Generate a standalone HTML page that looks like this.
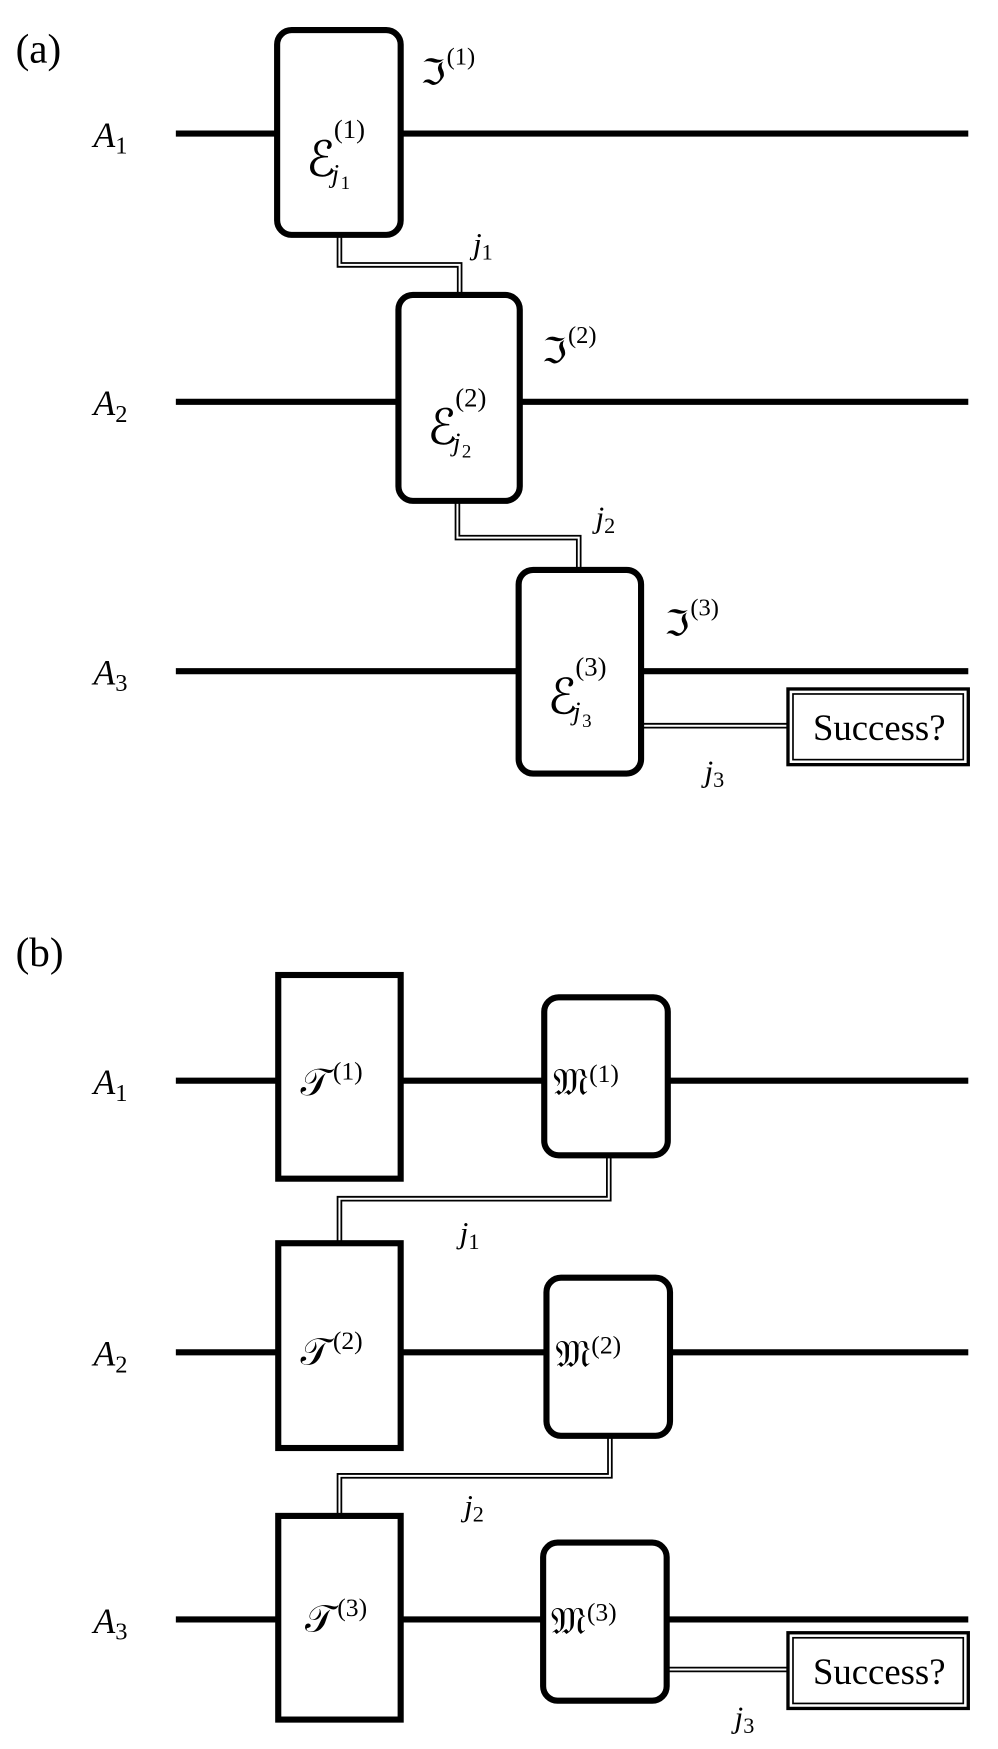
<!DOCTYPE html>
<html><head><meta charset="utf-8"><style>
html,body{margin:0;padding:0;background:#fff;}
svg{display:block;}
text{font-family:"Liberation Serif","DejaVu Serif",serif;fill:#000;}
.it{font-style:italic;}
.m{font-family:"DejaVu Serif","Liberation Serif",serif;}
</style></head><body>
<svg width="998" height="1749" viewBox="0 0 896.7 1571.4" xmlns="http://www.w3.org/2000/svg">
<g fill="none" stroke="#000" stroke-width="5.5">
<line x1="158" y1="120" x2="870" y2="120"/>
<line x1="158" y1="361" x2="870" y2="361"/>
<line x1="158" y1="603" x2="870" y2="603"/>
<line x1="158" y1="971" x2="870" y2="971"/>
<line x1="158" y1="1215" x2="870" y2="1215"/>
<line x1="158" y1="1455" x2="870" y2="1455"/>
</g>
<g fill="none" stroke="#000" stroke-width="5">
<polyline points="305,211 305,238 413,238 413,265"/>
<polyline points="411,450 411,483 520,483 520,512"/>
<polyline points="576,652 708,652"/>
<polyline points="547,1038 547,1077 305,1077 305,1117"/>
<polyline points="548,1290 548,1326 305,1326 305,1362"/>
<polyline points="599,1500 708,1500"/>
</g>
<g fill="none" stroke="#fff" stroke-width="1.8">
<polyline points="305,211 305,238 413,238 413,265"/>
<polyline points="411,450 411,483 520,483 520,512"/>
<polyline points="576,652 708,652"/>
<polyline points="547,1038 547,1077 305,1077 305,1117"/>
<polyline points="548,1290 548,1326 305,1326 305,1362"/>
<polyline points="599,1500 708,1500"/>
</g>
<g fill="#fff" stroke="#000" stroke-width="5.5">
<rect x="249" y="27" width="111" height="184" rx="13"/>
<rect x="358" y="265" width="109" height="185" rx="13"/>
<rect x="466" y="512" width="110" height="183" rx="13"/>
<rect x="250" y="876" width="110" height="183"/>
<rect x="489" y="896" width="111" height="142" rx="13"/>
<rect x="250" y="1117" width="110" height="184"/>
<rect x="491" y="1148" width="111" height="142" rx="13"/>
<rect x="250" y="1362" width="110" height="183"/>
<rect x="488" y="1386" width="111" height="142" rx="13"/>
</g>
<g fill="#fff" stroke="#000">
<rect x="708" y="619" width="162" height="68" stroke-width="3"/>
<rect x="712.5" y="623.5" width="153" height="59" stroke-width="1.5"/>
<rect x="708" y="1467" width="162" height="68" stroke-width="3"/>
<rect x="712.5" y="1471.5" width="153" height="59" stroke-width="1.5"/>
</g>
<text x="790" y="665" font-size="33" text-anchor="middle">Success?</text>
<text x="790" y="1513" font-size="33" text-anchor="middle">Success?</text>
<text x="14" y="56" font-size="37">(a)</text>
<text x="14" y="868" font-size="37">(b)</text>
<g font-size="32">
<text x="84" y="132"><tspan class="it">A</tspan><tspan font-size="22" dy="6">1</tspan></text>
<text x="84" y="373"><tspan class="it">A</tspan><tspan font-size="22" dy="6">2</tspan></text>
<text x="84" y="615"><tspan class="it">A</tspan><tspan font-size="22" dy="6">3</tspan></text>
<text x="84" y="983"><tspan class="it">A</tspan><tspan font-size="22" dy="6">1</tspan></text>
<text x="84" y="1227"><tspan class="it">A</tspan><tspan font-size="22" dy="6">2</tspan></text>
<text x="84" y="1467"><tspan class="it">A</tspan><tspan font-size="22" dy="6">3</tspan></text>
</g>
<text class="m" x="275" y="158" font-size="44">ℰ</text>
<text x="300" y="124" font-size="24">(1)</text>
<text class="it" x="298" y="164" font-size="24">j</text>
<text x="306" y="170" font-size="17">1</text>

<text class="m" x="384" y="399" font-size="44">ℰ</text>
<text x="409" y="365" font-size="24">(2)</text>
<text class="it" x="407" y="405" font-size="24">j</text>
<text x="415" y="411" font-size="17">2</text>

<text class="m" x="492" y="641" font-size="44">ℰ</text>
<text x="517" y="607" font-size="24">(3)</text>
<text class="it" x="515" y="647" font-size="24">j</text>
<text x="523" y="653" font-size="17">3</text>

<g font-size="32">
<text x="378" y="76"><tspan class="m">ℑ</tspan><tspan font-size="22" dx="1" dy="-18">(1)</tspan></text>
<text x="487" y="326"><tspan class="m">ℑ</tspan><tspan font-size="22" dx="1" dy="-18">(2)</tspan></text>
<text x="597" y="571"><tspan class="m">ℑ</tspan><tspan font-size="22" dx="1" dy="-18">(3)</tspan></text>
</g>
<g font-size="28">
<text x="425" y="228"><tspan class="it">j</tspan><tspan font-size="20" dy="5">1</tspan></text>
<text x="535" y="474"><tspan class="it">j</tspan><tspan font-size="20" dy="5">2</tspan></text>
<text x="633" y="702"><tspan class="it">j</tspan><tspan font-size="20" dy="5">3</tspan></text>
<text x="413" y="1117"><tspan class="it">j</tspan><tspan font-size="20" dy="5">1</tspan></text>
<text x="417" y="1362"><tspan class="it">j</tspan><tspan font-size="20" dy="5">2</tspan></text>
<text x="660" y="1552"><tspan class="it">j</tspan><tspan font-size="20" dy="5">3</tspan></text>
</g>
<g font-size="34">
<text x="270" y="984"><tspan class="m">𝒯</tspan><tspan font-size="23" dx="3" dy="-14">(1)</tspan></text>
<text x="270" y="1226"><tspan class="m">𝒯</tspan><tspan font-size="23" dx="3" dy="-14">(2)</tspan></text>
<text x="274" y="1466"><tspan class="m">𝒯</tspan><tspan font-size="23" dx="3" dy="-14">(3)</tspan></text>
</g>
<g font-size="34">
<text x="497" y="984"><tspan class="m">𝔐</tspan><tspan font-size="23" dx="1" dy="-12">(1)</tspan></text>
<text x="499" y="1228"><tspan class="m">𝔐</tspan><tspan font-size="23" dx="1" dy="-12">(2)</tspan></text>
<text x="495" y="1468"><tspan class="m">𝔐</tspan><tspan font-size="23" dx="1" dy="-12">(3)</tspan></text>
</g>
</svg>
</body></html>
